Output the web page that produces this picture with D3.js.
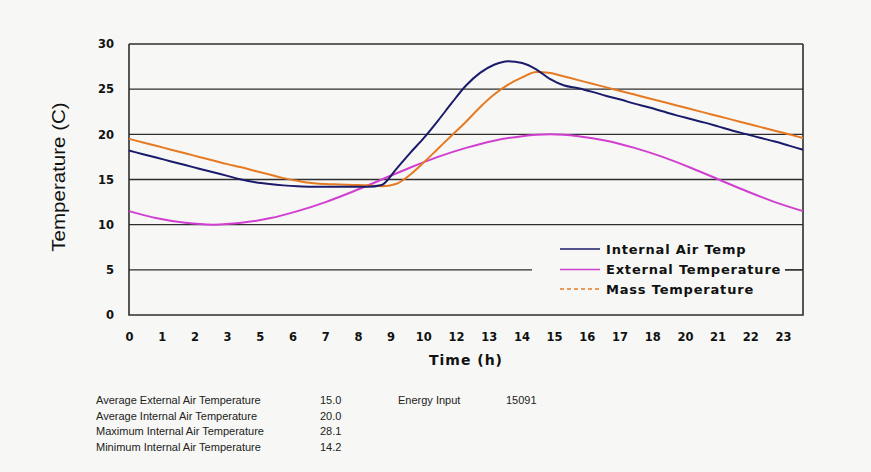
<!DOCTYPE html>
<html>
<head>
<meta charset="utf-8">
<script src="https://cdn.jsdelivr.net/npm/d3@7"></script>
<style>
  html, body { margin: 0; padding: 0; background: #f7f8f5; }
  svg { display: block; }
</style>
</head>
<body>
<svg id="chart" width="871" height="472"></svg>
<script>
// Hour stamps for each series
const halfHours = [0,0.5,1,1.5,2,2.5,3,3.5,4,4.5,5,5.5,6,6.5,7,7.5,8,8.5,9,9.5,10,10.5,11,11.5,12,12.5,13,13.5,14,14.5,15,15.5,16,16.5,17,17.5,18,18.5,19,19.5,20,20.5,21,21.5,22,22.5,23,23.5,24];
const hours = [0,1,2,3,4,5,6,7,8,9,10,11,12,13,14,15,16,17,18,19,20,21,22,23,24];

// Temperatures (C)
const internalAir = [18.2,17.8,17.4,17.0,16.6,16.2,15.8,15.4,15.0,14.7,14.5,14.35,14.25,14.2,14.2,14.2,14.2,14.2,14.4,16.1,17.9,19.6,21.5,23.5,25.4,26.8,27.7,28.1,27.9,27.2,26.1,25.4,25.1,24.7,24.25,23.85,23.4,23.0,22.55,22.1,21.7,21.3,20.85,20.4,20.0,19.6,19.2,18.75,18.3];
const massTemp = [19.5,19.1,18.7,18.3,17.9,17.5,17.1,16.7,16.35,15.95,15.55,15.15,14.85,14.6,14.5,14.45,14.4,14.35,14.25,14.5,15.5,16.9,18.4,19.9,21.4,23.0,24.4,25.5,26.3,26.9,26.8,26.4,26.0,25.6,25.2,24.8,24.4,24.0,23.6,23.2,22.8,22.4,22.0,21.6,21.2,20.8,20.4,20.0,19.6];
const externalTemp = [11.5,10.7,10.2,10.0,10.2,10.7,11.5,12.5,13.7,15.0,16.3,17.5,18.5,19.3,19.8,20.0,19.8,19.3,18.5,17.5,16.3,15.0,13.7,12.5,11.5];

// Axis labels
const yTicks = [0,5,10,15,20,25,30];
const xTickLabels = ["0","1","2","3","5","6","7","8","9","10","12","13","14","15","16","17","18","20","21","22","23"];

// Legend entries
const seriesNames = ["Internal Air Temp","External Temperature","Mass Temperature"];

// Summary table
const statLabels = ["Average External Air Temperature","Average Internal Air Temperature","Maximum Internal Air Temperature","Minimum Internal Air Temperature"];
const statValues = ["15.0","20.0","28.1","14.2"];
const energyLabel = "Energy Input";
const energyValue = "15091";

const colors = { internal: "#1b1b6b", external: "#d13fd1", mass: "#e67a22", grid: "#2e2e2e" };
const boldFont = "Verdana, 'DejaVu Sans', sans-serif";

const svg = d3.select("#chart");
const plotLeft = 129, plotRight = 803, plotTop = 44, plotBottom = 315;

const x = d3.scaleLinear().domain([0, 24]).range([plotLeft, plotRight]);
const y = d3.scaleLinear().domain([0, 30]).range([plotBottom, plotTop]);
// Tick labels sit on evenly spaced slots
const xSlots = d3.scalePoint().domain(xTickLabels).range([plotLeft, 783]);

// Horizontal grid lines
svg.append("g")
  .selectAll("line")
  .data(yTicks.filter(d => d > 0))
  .join("line")
  .attr("x1", plotLeft).attr("x2", plotRight)
  .attr("y1", d => y(d)).attr("y2", d => y(d))
  .attr("stroke", colors.grid).attr("stroke-width", 1.3);

// Plot frame: left axis, bottom axis, right border
svg.append("path")
  .attr("d", `M${plotLeft},${plotTop}V${plotBottom}H${plotRight}V${plotTop}`)
  .attr("fill", "none").attr("stroke", colors.grid).attr("stroke-width", 1.6);

// Y axis labels
const yAxis = d3.axisLeft(y).tickValues(yTicks).tickSize(0).tickPadding(15);
svg.append("g").attr("transform", `translate(${plotLeft},0)`).call(yAxis)
  .call(g => g.select(".domain").remove())
  .selectAll("text")
  .attr("font-family", boldFont)
  .attr("font-weight", "bold").attr("font-size", 11.5).attr("fill", "#111");

// X axis labels
const xAxis = d3.axisBottom(xSlots).tickSize(0).tickPadding(18);
svg.append("g").attr("transform", `translate(0,${plotBottom})`).call(xAxis)
  .call(g => g.select(".domain").remove())
  .selectAll("text")
  .attr("font-family", boldFont)
  .attr("font-weight", "bold").attr("font-size", 11.5).attr("fill", "#111");

// Axis titles
svg.append("text")
  .attr("transform", `translate(65,177) rotate(-90) scale(1.14,1)`)
  .attr("text-anchor", "middle")
  .attr("font-family", "'Liberation Sans', Arial, sans-serif")
  .attr("font-size", 18).attr("fill", "#111")
  .text("Temperature (C)");

svg.append("text")
  .attr("x", 466).attr("y", 365)
  .attr("text-anchor", "middle")
  .attr("font-family", boldFont)
  .attr("font-weight", "bold").attr("font-size", 14).attr("letter-spacing", 1)
  .attr("fill", "#111")
  .text("Time (h)");

// Series lines
const line = (xs) => d3.line()
  .x((d, i) => x(xs[i]))
  .y(d => y(d))
  .curve(d3.curveMonotoneX);

svg.append("path").datum(externalTemp)
  .attr("d", line(hours)).attr("fill", "none")
  .attr("stroke", colors.external).attr("stroke-width", 2);
svg.append("path").datum(massTemp)
  .attr("d", line(halfHours)).attr("fill", "none")
  .attr("stroke", colors.mass).attr("stroke-width", 2);
svg.append("path").datum(internalAir)
  .attr("d", line(halfHours)).attr("fill", "none")
  .attr("stroke", colors.internal).attr("stroke-width", 2);

// Legend
const legend = svg.append("g");
legend.append("rect")
  .attr("x", 532).attr("y", 236).attr("width", 253).attr("height", 62)
  .attr("fill", "#f7f8f5");
const legendItems = [
  { name: seriesNames[0], color: colors.internal, dash: null },
  { name: seriesNames[1], color: colors.external, dash: null },
  { name: seriesNames[2], color: colors.mass, dash: "4,3" }
];
const legendRows = [249, 269.5, 289];
legendItems.forEach((item, i) => {
  legend.append("line")
    .attr("x1", 560).attr("x2", 600)
    .attr("y1", legendRows[i]).attr("y2", legendRows[i])
    .attr("stroke", item.color).attr("stroke-width", 1.5)
    .attr("stroke-dasharray", item.dash);
  legend.append("text")
    .attr("x", 606).attr("y", legendRows[i] + 4.5)
    .attr("font-family", boldFont)
    .attr("font-weight", "bold").attr("font-size", 13).attr("letter-spacing", 0.8)
    .attr("fill", "#111")
    .text(item.name);
});
// grid line resumes after the middle legend entry
legend.append("line")
  .attr("x1", 785).attr("x2", plotRight)
  .attr("y1", y(5)).attr("y2", y(5))
  .attr("stroke", colors.grid).attr("stroke-width", 1.3);

// Summary table
const stats = svg.append("g")
  .attr("font-family", "'Liberation Sans', Arial, sans-serif")
  .attr("font-size", 11).attr("fill", "#222");
statLabels.forEach((label, i) => {
  const ty = 404 + i * 15.7;
  stats.append("text").attr("x", 96).attr("y", ty).text(label);
  stats.append("text").attr("x", 320).attr("y", ty).text(statValues[i]);
});
stats.append("text").attr("x", 398).attr("y", 404).text(energyLabel);
stats.append("text").attr("x", 506).attr("y", 404).text(energyValue);
</script>
</body>
</html>
